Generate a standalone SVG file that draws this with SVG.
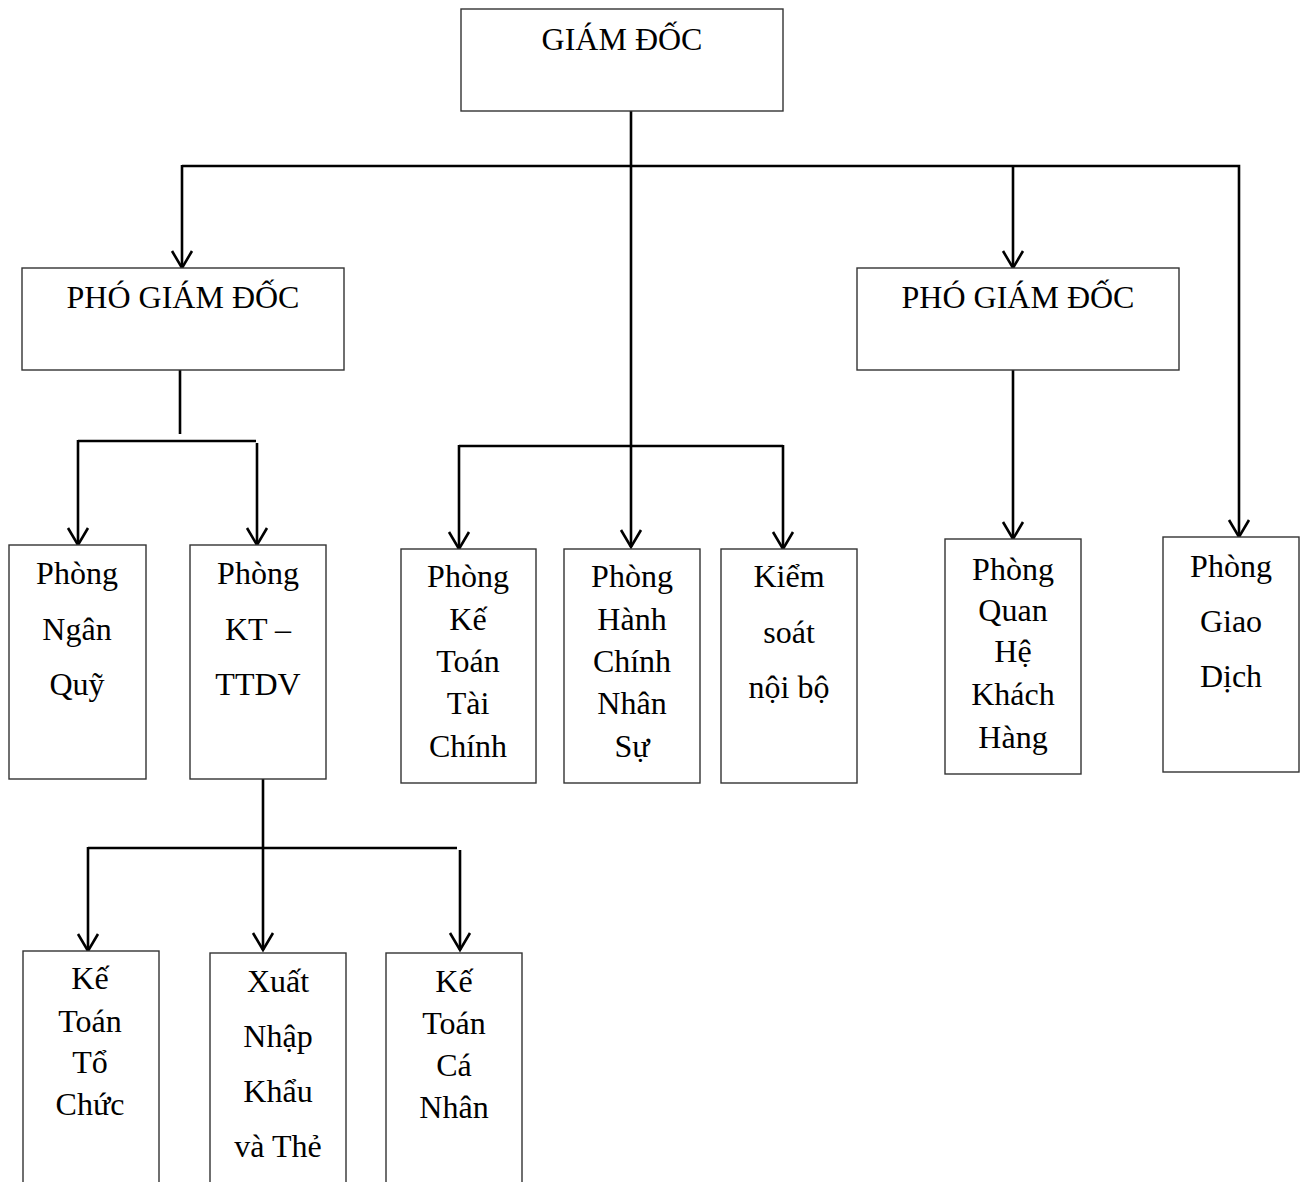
<svg xmlns="http://www.w3.org/2000/svg" width="1306" height="1182" viewBox="0 0 1306 1182">
<style>
.box{fill:#fff;stroke:#333;stroke-width:1.4}
.t{font-size:32px;fill:#000;text-anchor:middle}
.c{fill:none;stroke:#000;stroke-width:2.6}
</style>
<defs>
<marker id="arr" markerUnits="userSpaceOnUse" viewBox="-20 -12 22 24" refX="0" refY="0" markerWidth="22" markerHeight="24" orient="auto" overflow="visible">
<path d="M-17,-10 L0,0 L-17,10" fill="none" stroke="#000" stroke-width="2.6"/>
</marker>
</defs>
<rect width="1306" height="1182" fill="#fff"/>
<g id="connectors">
<line class="c" x1="631" y1="111" x2="631" y2="547" marker-end="url(#arr)"/>
<polyline class="c" points="182,166 1239,166 1239,537" marker-end="url(#arr)"/>
<line class="c" x1="182" y1="165" x2="182" y2="268" marker-end="url(#arr)"/>
<line class="c" x1="1013" y1="166" x2="1013" y2="268" marker-end="url(#arr)"/>
<line class="c" x1="1013" y1="370" x2="1013" y2="539" marker-end="url(#arr)"/>
<line class="c" x1="180" y1="370" x2="180" y2="434"/>
<line class="c" x1="78" y1="441" x2="256" y2="441"/>
<line class="c" x1="78" y1="440" x2="78" y2="545" marker-end="url(#arr)"/>
<line class="c" x1="257" y1="443" x2="257" y2="545" marker-end="url(#arr)"/>
<line class="c" x1="459" y1="446" x2="783" y2="446"/>
<line class="c" x1="459" y1="445" x2="459" y2="549" marker-end="url(#arr)"/>
<line class="c" x1="783" y1="445" x2="783" y2="549" marker-end="url(#arr)"/>
<line class="c" x1="263" y1="779" x2="263" y2="950" marker-end="url(#arr)"/>
<line class="c" x1="88" y1="848" x2="457" y2="848"/>
<line class="c" x1="88" y1="847" x2="88" y2="951" marker-end="url(#arr)"/>
<line class="c" x1="460" y1="850" x2="460" y2="950" marker-end="url(#arr)"/>
</g>
<g font-family="Liberation Serif, DejaVu Serif, serif">
<g id="giam-doc"><rect class="box" x="461" y="9" width="322" height="102"/><text class="t" x="622" y="50">GIÁM ĐỐC</text></g>
<g id="pgd-left"><rect class="box" x="22" y="268" width="322" height="102"/><text class="t" x="183" y="308">PHÓ GIÁM ĐỐC</text></g>
<g id="pgd-right"><rect class="box" x="857" y="268" width="322" height="102"/><text class="t" x="1018" y="308">PHÓ GIÁM ĐỐC</text></g>
<g id="ngan-quy"><rect class="box" x="9" y="545" width="137" height="234"/>
<text class="t" x="77" y="584">Phòng</text><text class="t" x="77" y="640">Ngân</text><text class="t" x="77" y="695">Quỹ</text></g>
<g id="kt-ttdv"><rect class="box" x="190" y="545" width="136" height="234"/>
<text class="t" x="258" y="584">Phòng</text><text class="t" x="258" y="640">KT –</text><text class="t" x="258" y="695">TTDV</text></g>
<g id="ke-toan-tai-chinh"><rect class="box" x="401" y="549" width="135" height="234"/>
<text class="t" x="468" y="587">Phòng</text><text class="t" x="468" y="630">Kế</text><text class="t" x="468" y="672">Toán</text><text class="t" x="468" y="714">Tài</text><text class="t" x="468" y="757">Chính</text></g>
<g id="hanh-chinh"><rect class="box" x="564" y="549" width="136" height="234"/>
<text class="t" x="632" y="587">Phòng</text><text class="t" x="632" y="630">Hành</text><text class="t" x="632" y="672">Chính</text><text class="t" x="632" y="714">Nhân</text><text class="t" x="632" y="757">Sự</text></g>
<g id="kiem-soat"><rect class="box" x="721" y="549" width="136" height="234"/>
<text class="t" x="789" y="587">Kiểm</text><text class="t" x="789" y="643">soát</text><text class="t" x="789" y="698">nội bộ</text></g>
<g id="quan-he"><rect class="box" x="945" y="539" width="136" height="235"/>
<text class="t" x="1013" y="580">Phòng</text><text class="t" x="1013" y="621">Quan</text><text class="t" x="1013" y="662">Hệ</text><text class="t" x="1013" y="705">Khách</text><text class="t" x="1013" y="748">Hàng</text></g>
<g id="giao-dich"><rect class="box" x="1163" y="537" width="136" height="235"/>
<text class="t" x="1231" y="577">Phòng</text><text class="t" x="1231" y="632">Giao</text><text class="t" x="1231" y="687">Dịch</text></g>
<g id="kt-to-chuc"><rect class="box" x="23" y="951" width="136" height="260"/>
<text class="t" x="90" y="989">Kế</text><text class="t" x="90" y="1032">Toán</text><text class="t" x="90" y="1073">Tổ</text><text class="t" x="90" y="1115">Chức</text></g>
<g id="xnk-the"><rect class="box" x="210" y="953" width="136" height="260"/>
<text class="t" x="278" y="992">Xuất</text><text class="t" x="278" y="1047">Nhập</text><text class="t" x="278" y="1102">Khẩu</text><text class="t" x="278" y="1157">và Thẻ</text></g>
<g id="kt-ca-nhan"><rect class="box" x="386" y="953" width="136" height="260"/>
<text class="t" x="454" y="992">Kế</text><text class="t" x="454" y="1034">Toán</text><text class="t" x="454" y="1076">Cá</text><text class="t" x="454" y="1118">Nhân</text></g>
</g>
</svg>
